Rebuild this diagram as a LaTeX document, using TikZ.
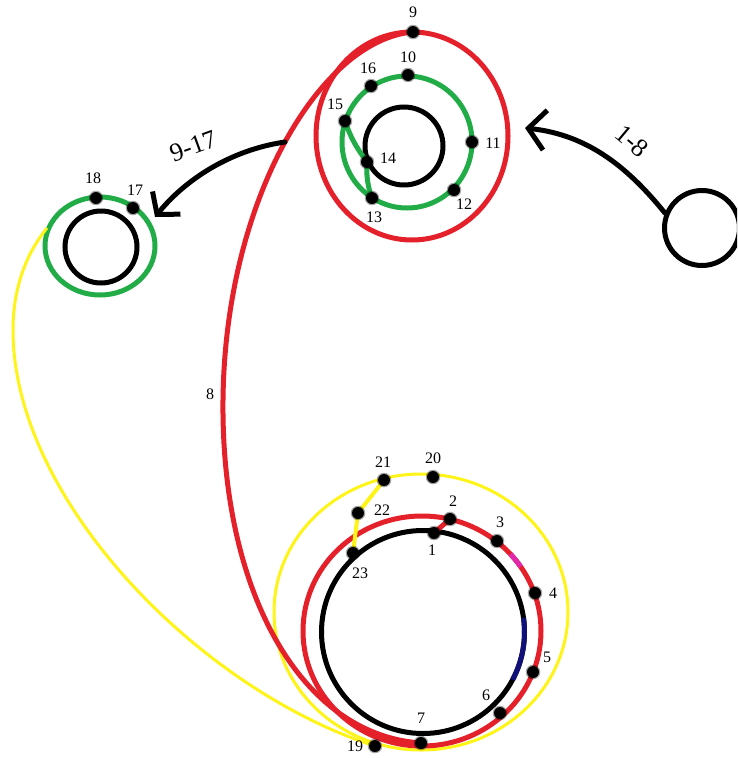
\documentclass[tikz,border=0pt]{standalone}
\usepackage{fontspec}
\setmainfont{Liberation Serif}
\usetikzlibrary{arrows.meta}
\definecolor{cred}{RGB}{228,32,42}
\definecolor{cgreen}{RGB}{34,172,72}
\definecolor{cyellow}{RGB}{255,244,24}
\definecolor{cblue}{RGB}{16,16,120}
\definecolor{cmag}{RGB}{226,40,170}
\begin{document}
\begin{tikzpicture}[x=1pt,y=-1pt,
  dot/.style={circle,fill=black,inner sep=0pt,minimum size=12pt,
    preaction={draw=black,line width=2.5pt,draw opacity=0.35}},
  lab/.style={font=\fontsize{16}{16}\selectfont,inner sep=0pt},
  bigl/.style={font=\fontsize{26}{26}\selectfont,inner sep=0pt},
  ring/.style={line width=5pt},
  thinring/.style={line width=3pt},
  arr/.style={line width=5pt,line cap=round},
]
\useasboundingbox (0,0) rectangle (737,758);
\clip (0,0) rectangle (737,758);

% ---------- bottom cluster ----------
\draw[thinring,cyellow] (421,612) ellipse [x radius=147, y radius=138];
\draw[ring,cred] (422,631) ellipse [x radius=119, y radius=115];
\draw[ring,cmag] (422,631) ++(-42:119 and 115) arc[start angle=-42, end angle=-34, x radius=119, y radius=115];
\draw[ring,black] (423,632) circle [radius=101.5];
\draw[ring,cblue] (423,632) ++(-8:101.5) arc[start angle=-8, end angle=28, radius=101.5];

% ---------- top cluster ----------
\draw[ring,cred] (412,136) ellipse [x radius=96, y radius=104];
\draw[ring,cgreen] (407,142) ellipse [x radius=65, y radius=66];
\draw[ring,black] (404,146) circle [radius=39];

% ---------- left cluster ----------
\draw[ring,cgreen] (100,246) ellipse [x radius=55, y radius=49];
\draw[ring,black] (101,247) circle [radius=36];

% ---------- right circle ----------
\node[circle,draw,line width=5pt,minimum size=75pt,inner sep=0pt] (src) at (702,228) {};

% ---------- connectors ----------
\coordinate (p1) at (434,533);
\coordinate (p2) at (450,519);
\coordinate (p7) at (421,743);
\coordinate (p9) at (413,32);
\coordinate (p13) at (372,198);
\coordinate (p14) at (367,162);
\coordinate (p15) at (345,121);
\coordinate (p19) at (375,746);
\coordinate (p21) at (384,480);
\coordinate (p22) at (358,513);
\coordinate (p23) at (353,553);

\draw[ring,cred] (p1) -- (p2);
\draw[ring,cgreen] (p15) .. controls (352,142) and (360,152) .. (p14)
                   .. controls (366,175) and (368,188) .. (p13);
\draw[line width=4pt,cyellow] (p21) -- (p22) -- (p23);

% long red curve 8
\draw[ring,cred] (p9) .. controls (320,40) and (225,200) .. (223,400)
                 .. controls (221,590) and (300,735) .. (p7);
% long yellow curve
\coordinate (y0) at (47,228);
\draw[thinring,cyellow] (y0) .. controls (25,255) and (13,290) .. (13,330)
                 .. controls (13,500) and (200,690) .. (p19);

% arrows
\coordinate (a917s) at (285,142);
\coordinate (a917e) at (155,217);
\draw[arr,-{Straight Barb[length=15pt,width=36pt]}] (a917s) .. controls (230,150) and (185,180) .. (a917e);
\coordinate (a18e) at (525,128);
\draw[arr,-{Straight Barb[length=17pt,width=40pt]}] (src.158) .. controls (630,170) and (590,135) .. (a18e);

% ---------- dots ----------
\node[dot] (d1) at (p1) {};
\node[dot] (d2) at (p2) {};
\node[dot] (d3) at (497,541) {};
\node[dot] (d4) at (535,593) {};
\node[dot] (d5) at (533,672) {};
\node[dot] (d6) at (500,713) {};
\node[dot] (d7) at (p7) {};
\node[dot] (d9) at (p9) {};
\node[dot] (d10) at (408,75) {};
\node[dot] (d11) at (472,142) {};
\node[dot] (d12) at (454,190) {};
\node[dot] (d13) at (p13) {};
\node[dot] (d14) at (p14) {};
\node[dot] (d15) at (p15) {};
\node[dot] (d16) at (371,86) {};
\node[dot] (d17) at (133,208) {};
\node[dot] (d18) at (96,198) {};
\node[dot] (d19) at (p19) {};
\node[dot] (d20) at (433,477) {};
\node[dot] (d21) at (p21) {};
\node[dot] (d22) at (p22) {};
\node[dot] (d23) at (p23) {};

% ---------- labels ----------
\node[bigl,rotate=20] (t917) at (193,146) {9-17};
\node[bigl,rotate=-40] (t18) at (632,141) {1-8};
\node[lab] (t8) at (210,394) {8};

\node[lab] at (432,550) {1};
\node[lab] at (453,501) {2};
\node[lab] at (500,522) {3};
\node[lab] at (553,593) {4};
\node[lab] at (547,657) {5};
\node[lab] at (486,695) {6};
\node[lab] at (421,718) {7};
\node[lab] at (355,746) {19};
\node[lab] at (433,458) {20};
\node[lab] at (383,462) {21};
\node[lab] at (382,510) {22};
\node[lab] at (360,573) {23};

\node[lab] at (413,12) {9};
\node[lab] at (408,57) {10};
\node[lab] at (368,68) {16};
\node[lab] at (335,104) {15};
\node[lab] at (493,143) {11};
\node[lab] at (388,158) {14};
\node[lab] at (374,217) {13};
\node[lab] at (464,204) {12};
\node[lab] at (93,178) {18};
\node[lab] at (135,190) {17};
\end{tikzpicture}
\end{document}
